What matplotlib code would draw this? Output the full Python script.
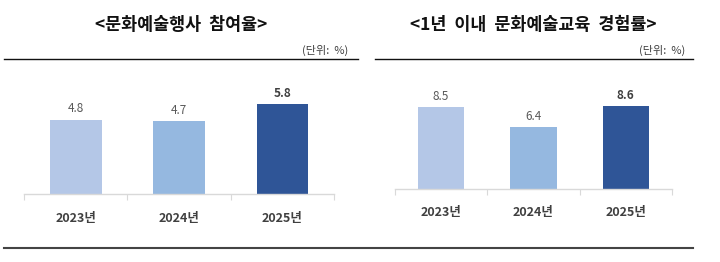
import matplotlib
matplotlib.use("Agg")
import matplotlib.pyplot as plt
from matplotlib.lines import Line2D

plt.rcParams['font.family'] = ['Noto Sans CJK KR', 'DejaVu Sans']

years = ["2023년", "2024년", "2025년"]
left_title = "<문화예술행사  참여율>"
left_values = [4.8, 4.7, 5.8]
right_title = "<1년  이내  문화예술교육  경험률>"
right_values = [8.5, 6.4, 8.6]
unit_label = "(단위:  %)"
colors = ["#B4C7E7", "#95B8E0", "#2F5597"]

W, H = 720, 262
fig = plt.figure(figsize=(W / 100, H / 100), dpi=100)

def fx(px):
    return px / W

def fy(py):
    return 1 - py / H

def panel(x0, x1, ybase, ytop, ymax, values, title, title_x, unit_x, label_off):
    ax = fig.add_axes([fx(x0), fy(ybase), fx(x1 - x0), (ybase - ytop) / H])
    xs = range(len(values))
    ax.bar(xs, values, width=0.5, color=colors, zorder=2)
    ax.set_xlim(-0.5, len(values) - 0.5)
    ax.set_ylim(0, ymax)
    for s in ["top", "right", "left"]:
        ax.spines[s].set_visible(False)
    ax.spines["bottom"].set_color("#D9D9D9")
    ax.spines["bottom"].set_linewidth(1.0)
    ax.set_yticks([])
    ax.set_xticks([i - 0.5 for i in range(len(values) + 1)], minor=False)
    ax.set_xticklabels([])
    ax.tick_params(axis="x", which="major", length=4, color="#D9D9D9", direction="out")
    ax.set_xticks(list(xs), minor=True)
    ax.set_xticklabels(years, minor=True, fontsize=9, fontweight="bold", color="#404040")
    ax.tick_params(axis="x", which="minor", length=0, pad=label_off)
    for i, v in enumerate(values):
        ax.annotate(f"{v:.1f}", (i, v), xytext=(0, 3), textcoords="offset points",
                    ha="center", va="bottom", fontsize=8.5,
                    fontweight="bold" if i == len(values) - 1 else "medium",
                    color="#404040" if i == len(values) - 1 else "#595959")
    fig.text(fx(title_x), fy(25), title, ha="center", va="center", fontsize=12.5,
             fontweight="bold", color="#111111")
    fig.text(fx(unit_x), fy(50), unit_label, ha="right", va="center", fontsize=8,
             color="#404040")
    return ax

panel(24, 334, 194, 60, 134 / 15.5, left_values, left_title, 181, 348, 13)
panel(395, 672, 189, 60, 129 / 9.65, right_values, right_title, 533, 685, 12)

fig.add_artist(Line2D([fx(4), fx(358)], [fy(59), fy(59)], color="#111111", lw=1.0))
fig.add_artist(Line2D([fx(375), fx(693)], [fy(59), fy(59)], color="#111111", lw=1.0))
fig.add_artist(Line2D([fx(4), fx(693)], [fy(248), fy(248)], color="#444444", lw=1.5))

fig.savefig("out.png", dpi=100)
